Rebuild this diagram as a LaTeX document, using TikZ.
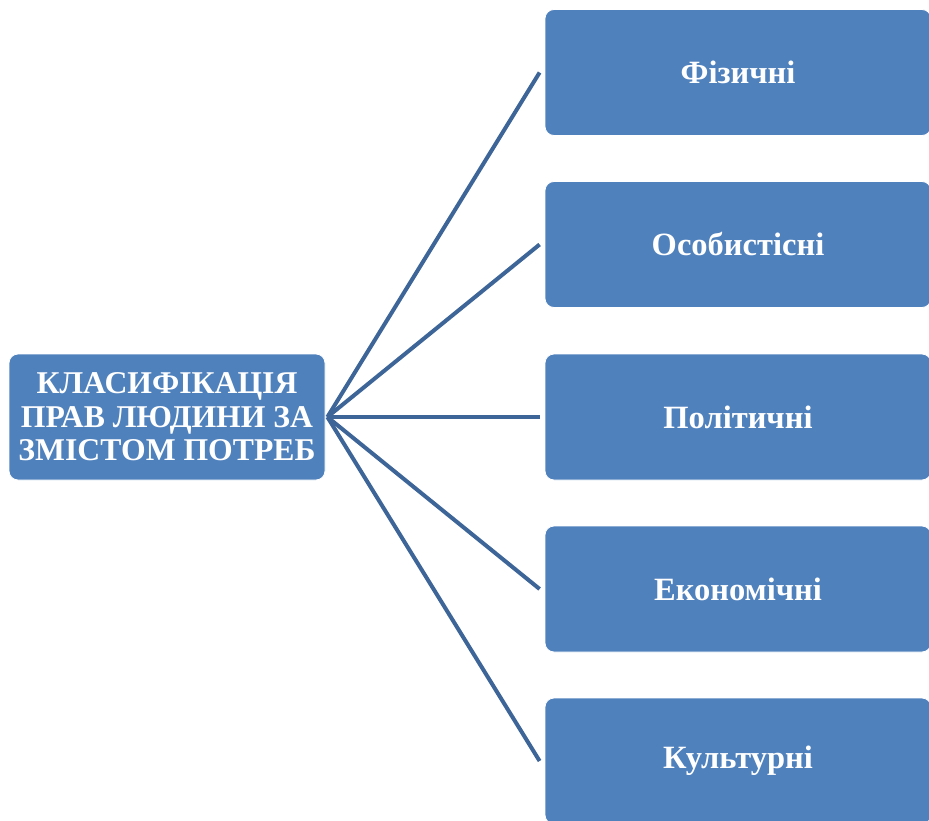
\documentclass[tikz,border=0pt]{standalone}
\usepackage{fontspec}
\setmainfont{Liberation Serif}
\definecolor{boxblue}{HTML}{4F81BD}
\definecolor{lineblue}{HTML}{3D6598}
\begin{document}
\begin{tikzpicture}[x=1pt,y=-1pt,
  box/.style={fill=boxblue,draw=white,line width=0.8pt,rounded corners=9pt,inner sep=0pt,
    text=white,align=center},
  rootfont/.style={font=\fontsize{31.7}{33.5}\selectfont\bfseries},
  leaffont/.style={font=\fontsize{32.5}{36}\selectfont\bfseries},
  conn/.style={draw=lineblue,line width=4pt}]
\useasboundingbox (0,0) rectangle (929,821);
\clip (0,0) rectangle (929,821);
\node[box,rootfont,minimum width=316pt,minimum height=126pt] (root) at (167,417) {КЛАСИФІКАЦІЯ\\ПРАВ ЛЮДИНИ ЗА\\ЗМІСТОМ ПОТРЕБ};
\node[box,leaffont,minimum width=386pt,minimum height=126pt] (a) at (738,72.5) {Фізичні};
\node[box,leaffont,minimum width=386pt,minimum height=126pt] (b) at (738,244.5) {Особистісні};
\node[box,leaffont,minimum width=386pt,minimum height=126pt] (c) at (738,417) {Політичні};
\node[box,leaffont,minimum width=386pt,minimum height=126pt] (d) at (738,589) {Економічні};
\node[box,leaffont,minimum width=386pt,minimum height=126pt] (e) at (738,761) {Культурні};
\foreach \n in {a,b,c,d,e}{
  \draw[conn] ([xshift=2pt]root.east) -- ([xshift=-5pt]\n.west);
}
\end{tikzpicture}
\end{document}
